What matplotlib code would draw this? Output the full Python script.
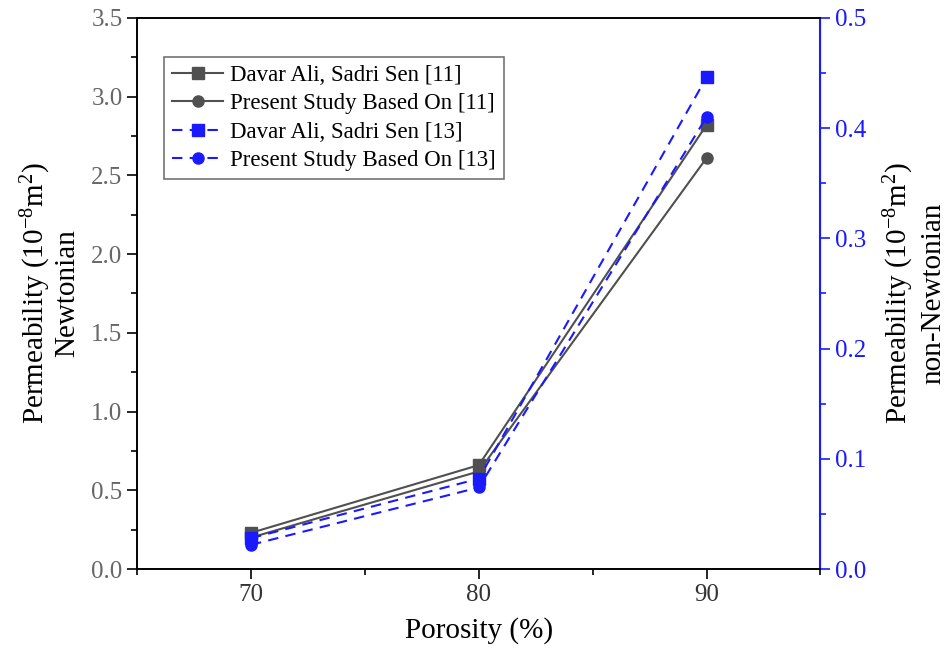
import matplotlib
matplotlib.use("Agg")
import matplotlib.pyplot as plt
from matplotlib.ticker import MultipleLocator, FormatStrFormatter

plt.rcParams['font.family'] = ['Liberation Serif', 'DejaVu Serif']
plt.rcParams['mathtext.fontset'] = 'custom'
plt.rcParams['mathtext.rm'] = 'Liberation Serif'
plt.rcParams['mathtext.it'] = 'Liberation Serif:italic'

# Data
porosity = [70, 80, 90]
davar_11 = [0.23, 0.66, 2.82]
present_11 = [0.20, 0.62, 2.61]
davar_13 = [0.028, 0.082, 0.446]
present_13 = [0.022, 0.074, 0.410]

gray = '#505050'
blue = '#1a1aff'

fig = plt.figure(figsize=(9.49, 6.64), dpi=100)
ax = fig.add_axes([0.1445, 0.143, 0.72, 0.83])
ax2 = ax.twinx()

l1, = ax.plot(porosity, davar_11, color=gray, marker='s', markersize=8, lw=1.5,
              label='Davar Ali, Sadri Sen [11]')
l2, = ax.plot(porosity, present_11, color=gray, marker='o', markersize=8, lw=1.5,
              label='Present Study Based On [11]')
l3, = ax2.plot(porosity, davar_13, color=blue, marker='s', markersize=8, lw=1.5,
               ls=(0, (5, 3.5)), label='Davar Ali, Sadri Sen [13]')
l4, = ax2.plot(porosity, present_13, color=blue, marker='o', markersize=8, lw=1.5,
               ls=(0, (5, 3.5)), label='Present Study Based On [13]')

ax.set_xlim(65, 95)
ax.set_ylim(0, 3.5)
ax2.set_ylim(0, 0.5)
ax.set_xticks([70, 80, 90])
ax.xaxis.set_minor_locator(MultipleLocator(5))
ax.yaxis.set_major_locator(MultipleLocator(0.5))
ax.yaxis.set_minor_locator(MultipleLocator(0.25))
ax2.yaxis.set_major_locator(MultipleLocator(0.1))
ax2.yaxis.set_minor_locator(MultipleLocator(0.05))
ax.yaxis.set_major_formatter(FormatStrFormatter('%.1f'))
ax2.yaxis.set_major_formatter(FormatStrFormatter('%.1f'))

ax.tick_params(axis='both', which='major', direction='out', length=7, width=1.2,
               labelsize=18)
ax.tick_params(axis='y', labelcolor='#666666')
ax.tick_params(axis='x', labelcolor='#333333')
ax.tick_params(axis='both', which='minor', direction='out', length=4, width=1.2)
ax2.tick_params(axis='y', which='major', direction='out', length=7, width=1.2,
                labelsize=18, colors=blue)
ax2.tick_params(axis='y', which='minor', direction='out', length=4, width=1.2,
                colors=blue)

for s in ['left', 'bottom', 'top']:
    ax.spines[s].set_linewidth(1.2)
    ax2.spines[s].set_linewidth(1.2)
ax2.spines['right'].set_color(blue)
ax2.spines['right'].set_linewidth(1.5)

ax.set_xlabel('Porosity (%)', fontsize=21, labelpad=8)
ax.set_ylabel('Permeability (10$^{-8}$m$^2$)\nNewtonian', fontsize=21,
              labelpad=8, linespacing=1.05)
ax2.set_ylabel('Permeability (10$^{-8}$m$^2$)\nnon-Newtonian', fontsize=21,
               labelpad=11, linespacing=1.25)

leg = ax.legend(handles=[l1, l2, l3, l4], loc='upper left',
                bbox_to_anchor=(0.04, 0.93), fontsize=16.5, frameon=True,
                fancybox=False, edgecolor=gray, handlelength=2.2,
                handletextpad=0.3, borderpad=0.35, labelspacing=0.33,
                borderaxespad=0)
leg.get_frame().set_linewidth(1.2)

fig.savefig('out.png', dpi=100)
